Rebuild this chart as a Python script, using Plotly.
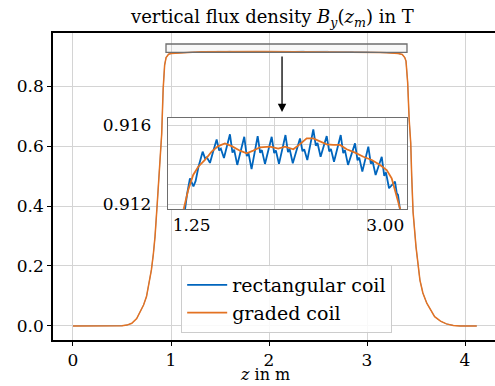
import plotly.graph_objects as go

# ---------------- data ----------------
z_left = [0.0, 0.30, 0.50, 0.55, 0.60, 0.65, 0.68, 0.72, 0.75, 0.78, 0.80, 0.82, 0.837,
          0.86, 0.88, 0.905, 0.92, 0.935, 0.95, 0.975, 1.00, 1.06, 1.12]
b_left = [0.0, 0.0, 0.001, 0.003, 0.009, 0.025, 0.043, 0.07, 0.098, 0.145, 0.187, 0.24, 0.298,
          0.41, 0.52, 0.64, 0.79, 0.87, 0.895, 0.906, 0.908, 0.9098, 0.9108]

z_right = [3.20, 3.26, 3.32, 3.36, 3.385, 3.398, 3.415, 3.43, 3.446, 3.456, 3.47, 3.50,
           3.54, 3.57, 3.61, 3.69, 3.75, 3.81, 3.88, 3.95, 4.12]
b_right = [0.9108, 0.9098, 0.908, 0.905, 0.895, 0.883, 0.811, 0.689, 0.611, 0.50, 0.38, 0.264,
           0.153, 0.11, 0.076, 0.031, 0.016, 0.007, 0.002, 0.0, 0.0]

z_rect_mid = [1.185, 1.2075, 1.2346, 1.2527, 1.2663, 1.2862, 1.3115, 1.3495, 1.3721, 1.3874,
              1.4155, 1.4453, 1.4761, 1.4987, 1.5140, 1.5421, 1.5692, 1.5963, 1.6189, 1.6343,
              1.6623, 1.6940, 1.7256, 1.7482, 1.7636, 1.7916, 1.8187, 1.8468, 1.8694, 1.8847,
              1.9128, 1.9426, 1.9734, 1.9960, 2.0113, 2.0394, 2.0683, 2.0981, 2.1207, 2.1361,
              2.1642, 2.1967, 2.2292, 2.2519, 2.2672, 2.2953, 2.3224, 2.3495, 2.3721, 2.3875,
              2.4155, 2.4426, 2.4707, 2.4933, 2.5086, 2.5367, 2.5665, 2.5973, 2.6199, 2.6352,
              2.6633, 2.6949, 2.7266, 2.7492, 2.7645, 2.7926, 2.8197, 2.8468, 2.8694, 2.8848,
              2.9128, 2.9400, 2.9680, 2.9906, 3.0060, 3.0340, 3.0611, 3.0882, 3.1036, 3.1153,
              3.1379]
b_rect_mid = [0.91151, 0.91247, 0.91331, 0.91303, 0.91290, 0.91318, 0.91388, 0.91466, 0.91431, 0.91437,
              0.91409, 0.91468, 0.91528, 0.91472, 0.91481, 0.91434, 0.91493, 0.91554, 0.91461, 0.91476,
              0.91399, 0.91470, 0.91541, 0.91443, 0.91460, 0.91378, 0.91462, 0.91545, 0.91460, 0.91474,
              0.91404, 0.91472, 0.91541, 0.91459, 0.91472, 0.91404, 0.91477, 0.91550, 0.91464, 0.91478,
              0.91407, 0.91470, 0.91533, 0.91468, 0.91478, 0.91424, 0.91501, 0.91579, 0.91496, 0.91510,
              0.91440, 0.91492, 0.91545, 0.91467, 0.91480, 0.91415, 0.91482, 0.91550, 0.91459, 0.91474,
              0.91399, 0.91453, 0.91508, 0.91422, 0.91436, 0.91365, 0.91428, 0.91491, 0.91405, 0.91419,
              0.91348, 0.91394, 0.91440, 0.91344, 0.91361, 0.91281, 0.91297, 0.91314, 0.91256, 0.91247,
              0.91151]

z_graded_mid = [1.180, 1.219, 1.264, 1.310, 1.370, 1.431, 1.490, 1.551, 1.612, 1.687,
                1.747, 1.807, 1.868, 1.958, 2.033, 2.094, 2.169, 2.229, 2.290, 2.349,
                2.410, 2.471, 2.530, 2.591, 2.651, 2.727, 2.802, 2.878, 2.953, 3.013,
                3.058, 3.088, 3.118, 3.133]
b_graded_mid = [0.91180, 0.91272, 0.91348, 0.91390, 0.91424, 0.91466, 0.91494, 0.91508, 0.91494, 0.91471,
                0.91458, 0.91471, 0.91488, 0.91491, 0.91481, 0.91491, 0.91478, 0.91504, 0.91533, 0.91533,
                0.91516, 0.91503, 0.91500, 0.91500, 0.91478, 0.91461, 0.91440, 0.91424, 0.91398, 0.91373,
                0.91331, 0.91272, 0.91205, 0.91180]

main_xticks = [0, 1, 2, 3, 4]
main_yticks = [0.0, 0.2, 0.4, 0.6, 0.8]
main_yticktext = ["0.0", "0.2", "0.4", "0.6", "0.8"]
inset_xticks = [1.25, 1.50, 1.75, 2.00, 2.25, 2.50, 2.75, 3.00]
inset_xticktext = ["1.25", " ", " ", " ", " ", " ", " ", "3.00"]
inset_yticks = [0.912, 0.913, 0.914, 0.915, 0.916]
inset_yticktext = ["0.912", " ", " ", " ", "0.916"]

series_names = ["rectangular coil", "graded coil"]
colors = ["#0065BD", "#E37222"]

z_rect = z_left + z_rect_mid + z_right
b_rect = b_left + b_rect_mid + b_right
z_graded = z_left + z_graded_mid + z_right
b_graded = b_left + b_graded_mid + b_right

FONT = "DejaVu Serif"
fig = go.Figure()

# main axes (blue kept thin so the orange curve hides it, as in the reference)
fig.add_trace(go.Scatter(x=z_rect, y=b_rect, mode="lines", showlegend=False,
                         line=dict(color=colors[0], width=0.6), xaxis="x", yaxis="y"))
fig.add_trace(go.Scatter(x=z_graded, y=b_graded, mode="lines", showlegend=False,
                         line=dict(color=colors[1], width=1.5), xaxis="x", yaxis="y"))
# inset axes (these carry the legend entries)
fig.add_trace(go.Scatter(x=z_rect, y=b_rect, mode="lines", name=series_names[0],
                         line=dict(color=colors[0], width=1.8), xaxis="x2", yaxis="y2"))
fig.add_trace(go.Scatter(x=z_graded, y=b_graded, mode="lines", name=series_names[1],
                         line=dict(color=colors[1], width=1.8), xaxis="x2", yaxis="y2"))

grid = "#d4d4d4"
fig.update_layout(
    width=495, height=386,
    margin=dict(l=53, r=0, t=33, b=46),
    paper_bgcolor="white", plot_bgcolor="white",
    font=dict(family=FONT, size=17, color="black"),
    xaxis=dict(range=[-0.204, 4.306], tickvals=main_xticks, showgrid=True, gridcolor=grid,
               gridwidth=1, zeroline=False, showline=True, linecolor="black", linewidth=1.5,
               mirror=True, ticks="outside", ticklen=4, tickcolor="black",
               domain=[0, 1], anchor="y"),
    yaxis=dict(range=[-0.0467, 0.9767], tickvals=main_yticks, ticktext=main_yticktext,
               showgrid=True, gridcolor=grid, gridwidth=1, zeroline=False, showline=True,
               linecolor="black", linewidth=1.5, ticks="outside", ticklen=4, tickcolor="black",
               domain=[0, 1], anchor="x"),
    xaxis2=dict(range=[1.0357, 3.1967], tickvals=inset_xticks, ticktext=inset_xticktext,
                showgrid=True, gridcolor=grid, gridwidth=1, zeroline=False, showline=True,
                linecolor="#6e6e6e", linewidth=1.2, mirror=True, ticks="",
                domain=[0.260, 0.801], anchor="y2"),
    yaxis2=dict(range=[0.91176, 0.91636], tickvals=inset_yticks, ticktext=inset_yticktext,
                showgrid=True, gridcolor=grid, gridwidth=1, zeroline=False, showline=True,
                linecolor="#6e6e6e", linewidth=1.2, mirror=True, ticks="",
                ticklabelstandoff=12, domain=[0.4267, 0.723], anchor="x2"),
    legend=dict(x=0.29, y=0.244, xanchor="left", yanchor="top", bgcolor="rgba(255,255,255,0.85)",
                bordercolor="#cccccc", borderwidth=1, font=dict(family=FONT, size=19),
                itemwidth=40, tracegroupgap=0, traceorder="normal"),
    showlegend=True,
)

# white backing of inset
fig.add_shape(type="rect", xref="x2 domain", yref="y2 domain", x0=0, x1=1, y0=0, y1=1,
              fillcolor="white", line=dict(width=0), layer="below")

# marker rectangle on main plot
fig.add_shape(type="rect", xref="x", yref="y", x0=0.949, x1=3.408, y0=0.912, y1=0.940,
              fillcolor="rgba(200,200,200,0.12)", line=dict(color="#6e6e6e", width=1.3),
              layer="above")

# arrow
fig.add_annotation(x=2.133, y=0.713, ax=2.133, ay=0.903, xref="x", yref="y", axref="x", ayref="y",
                   text="", showarrow=True, arrowhead=2, arrowsize=1.3, arrowwidth=1.3,
                   arrowcolor="black")

# title and x label
fig.add_annotation(xref="paper", yref="paper", x=0.495, y=1.049, xanchor="center", yanchor="middle",
                   showarrow=False, font=dict(family=FONT, size=18),
                   text="vertical flux density <i>B</i><sub><i>y</i></sub>(<i>z</i><sub><i>m</i></sub>) in T")
fig.add_annotation(xref="paper", yref="paper", x=0.479, y=-0.1466, xanchor="center", yanchor="bottom",
                   showarrow=False, borderpad=0, font=dict(family=FONT, size=16),
                   text="<i>z</i> in m")

fig.write_html("out.html")
